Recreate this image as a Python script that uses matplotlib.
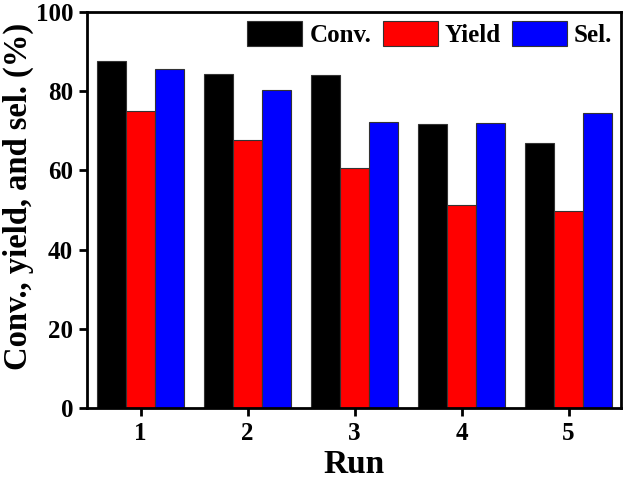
import matplotlib
matplotlib.use("Agg")
import matplotlib.pyplot as plt
import numpy as np

runs = [1, 2, 3, 4, 5]
conv = [87.6, 84.4, 84.1, 71.6, 67.0]
yield_ = [75.0, 67.8, 60.6, 51.3, 49.7]
sel = [85.6, 80.4, 72.1, 72.0, 74.6]

plt.rcParams['font.family'] = ['Liberation Serif', 'DejaVu Serif']
plt.rcParams['font.weight'] = 'bold'

W, H = 626, 479
fig = plt.figure(figsize=(W/100, H/100), dpi=100)
L, R, T, B = 87, 621, 12, 408
ax = fig.add_axes([L/W, 1-B/H, (R-L)/W, (B-T)/H])

x = np.array(runs)
w = 0.27
ax.bar(x - w, conv, w, color='black', edgecolor='#333333', linewidth=0.8, label='Conv.')
ax.bar(x, yield_, w, color='#ff0000', edgecolor='#333333', linewidth=0.8, label='Yield')
ax.bar(x + w, sel, w, color='#0000ff', edgecolor='#333333', linewidth=0.8, label='Sel.')

ax.set_xlim(0.5, 5.49)
ax.set_ylim(0, 100)
ax.set_xticks(runs)
ax.set_yticks([0, 20, 40, 60, 80, 100])
ax.tick_params(direction='out', width=2, length=6, labelsize=18, pad=4)
for lab in ax.get_xticklabels() + ax.get_yticklabels():
    lab.set_fontweight('bold')
for s in ax.spines.values():
    s.set_linewidth(2)

ax.set_xlabel('Run', fontsize=24, fontweight='bold', labelpad=3)
ax.set_ylabel('Conv., yield, and sel. (%)', fontsize=23.5, fontweight='bold')
ax.yaxis.set_label_coords(-0.100, 0.534)

leg = ax.legend(loc='upper right', ncol=3, frameon=False,
                handlelength=2.2, handleheight=1.2, columnspacing=0.45,
                handletextpad=0.28, borderaxespad=0.3, borderpad=0.05,
                prop={'weight': 'bold', 'size': 18})

fig.savefig('out.png', dpi=100)
